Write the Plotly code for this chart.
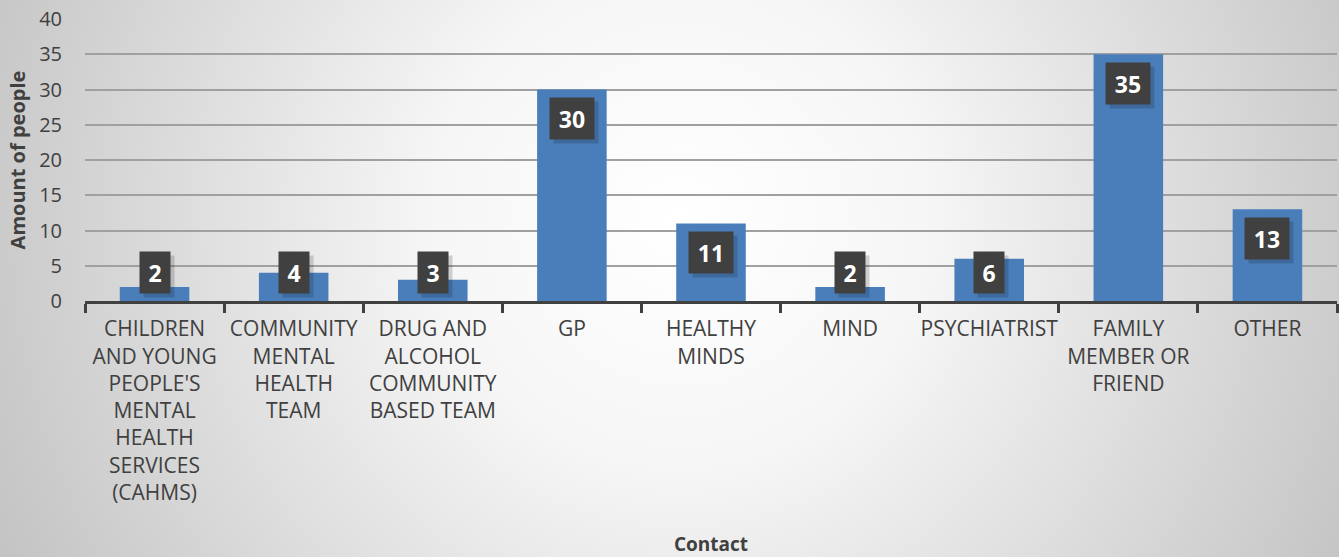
import base64
import plotly.graph_objects as go

categories = [
    "CHILDREN<br>AND YOUNG<br>PEOPLE'S<br>MENTAL<br>HEALTH<br>SERVICES<br>(CAHMS)",
    "COMMUNITY<br>MENTAL<br>HEALTH<br>TEAM",
    "DRUG AND<br>ALCOHOL<br>COMMUNITY<br>BASED TEAM",
    "GP",
    "HEALTHY<br>MINDS",
    "MIND",
    "PSYCHIATRIST",
    "FAMILY<br>MEMBER OR<br>FRIEND",
    "OTHER",
]
values = [2, 4, 3, 30, 11, 2, 6, 35, 13]
y_ticks = [0, 5, 10, 15, 20, 25, 30, 35, 40]

W, H = 1339, 557
ML, MR, MT, MB = 85, 2, 19, 256
pw, ph = W - ML - MR, H - MT - MB

svg = f'''<svg xmlns="http://www.w3.org/2000/svg" width="{W}" height="{H}" viewBox="0 0 {W} {H}" preserveAspectRatio="none">
<defs><radialGradient id="g" gradientUnits="userSpaceOnUse" cx="680" cy="220" r="820">
<stop offset="0" stop-color="#ffffff"/><stop offset="0.3" stop-color="#f6f6f6"/><stop offset="1" stop-color="#bdbdbd"/></radialGradient></defs>
<rect width="{W}" height="{H}" fill="url(#g)"/></svg>'''
src = "data:image/svg+xml;base64," + base64.b64encode(svg.encode()).decode()

fig = go.Figure()
fig.add_trace(go.Bar(x=categories, y=values, marker=dict(color="#4a7ebb", line=dict(width=0)),
                     hoverinfo="skip"))

px_per_unit = ph / 40
for c, v in zip(categories, values):
    if v * px_per_unit > 58:
        yv, ys = v, -29
    else:
        yv, ys = 0, 29
    bw = 30 if v < 10 else 44
    fig.add_annotation(x=c, y=yv, yshift=ys - 4, xshift=4, text=" ", showarrow=False,
                       bgcolor="rgba(0,0,0,0.16)", width=bw, height=41, borderpad=0,
                       yanchor="middle")
    fig.add_annotation(x=c, y=yv, yshift=ys, text=f"<b>{v}</b>", showarrow=False,
                       bgcolor="#404040", font=dict(color="white", size=23, family="Open Sans"),
                       width=bw, height=41, borderpad=0, yanchor="middle")

fig.add_layout_image(dict(source=src, xref="paper", yref="paper",
                          x=-ML / pw, y=1 + MT / ph, sizex=W / pw, sizey=H / ph,
                          sizing="stretch", xanchor="left", yanchor="top", layer="below"))

fig.update_layout(
    width=W, height=H,
    margin=dict(l=ML, r=MR, t=MT, b=MB, autoexpand=False),
    paper_bgcolor="#e6e6e6", plot_bgcolor="rgba(0,0,0,0)",
    bargap=0.5, showlegend=False,
    font=dict(family="Open Sans", color="#404040"),
)
fig.update_xaxes(
    type="category", tickson="boundaries", ticks="outside", ticklen=9, tickwidth=3,
    tickcolor="#404040", showline=True, linecolor="#404040", linewidth=3, tickangle=0,
    tickfont=dict(size=21, color="#404040"), showgrid=False, automargin=False,
    ticklabelstandoff=7,
    title=dict(text="<b>Contact</b>", font=dict(size=19, color="#404040"), standoff=36),
)
fig.update_yaxes(
    range=[0, 40], tickvals=y_ticks, showgrid=True, gridcolor="#a0a0a0", gridwidth=1.5,
    zeroline=False, ticks="", ticklabelstandoff=22, automargin=False,
    tickfont=dict(size=20, color="#404040"),
    title=dict(text="<b>Amount of people</b>", font=dict(size=20, color="#404040"), standoff=8),
)

fig.write_html("out.html", config={"displayModeBar": False},
               post_script="document.body.style.margin='0';document.body.style.overflow='hidden';")
